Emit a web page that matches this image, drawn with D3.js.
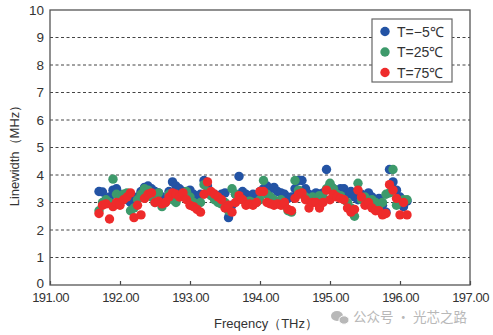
<!DOCTYPE html>
<html>
<head>
<meta charset="utf-8">
<script src="https://cdn.jsdelivr.net/npm/d3@7"></script>
<style>
  html, body { margin: 0; padding: 0; background: #fff; }
  svg { display: block; font-family: "Liberation Sans", Arial, sans-serif; }
</style>
</head>
<body>
<svg id="chart" width="493" height="335"></svg>
<script>
// Channel frequencies (THz), 50 GHz grid
const freqs = [
  191.70,191.75,191.80,191.85,191.90,191.95,192.00,192.05,192.10,192.15,
  192.20,192.25,192.30,192.35,192.40,192.45,192.50,192.55,192.60,192.65,
  192.70,192.75,192.80,192.85,192.90,192.95,193.00,193.05,193.10,193.15,
  193.20,193.25,193.30,193.35,193.40,193.45,193.50,193.55,193.60,193.65,
  193.70,193.75,193.80,193.85,193.90,193.95,194.00,194.05,194.10,194.15,
  194.20,194.25,194.30,194.35,194.40,194.45,194.50,194.55,194.60,194.65,
  194.70,194.75,194.80,194.85,194.90,194.95,195.00,195.05,195.10,195.15,
  195.20,195.25,195.30,195.35,195.40,195.45,195.50,195.55,195.60,195.65,
  195.70,195.75,195.80,195.85,195.90,195.95,196.00,196.05,196.10
];

// Linewidth (MHz) at T = -5 °C
const lwMinus5 = [
  3.40,3.38,3.10,3.20,3.45,3.50,3.30,3.20,3.10,3.00,
  3.10,3.20,3.40,3.55,3.60,3.50,3.40,3.35,3.20,3.10,
  3.40,3.75,3.60,3.50,3.40,3.30,3.45,3.30,3.20,3.30,
  3.80,3.60,3.35,3.30,3.20,3.30,3.35,2.45,2.90,3.30,
  3.95,3.40,3.30,3.25,3.30,3.20,3.40,3.50,3.60,3.50,
  3.55,3.40,3.35,3.30,3.15,3.20,3.50,3.80,3.80,3.50,
  3.30,3.25,3.35,3.30,3.35,4.20,3.65,3.50,3.40,3.50,
  3.50,3.30,3.40,3.20,3.10,3.30,3.25,3.35,3.20,3.10,
  3.15,2.90,2.65,4.20,3.75,3.45,3.20,2.85,3.05
];

// Linewidth (MHz) at T = 25 °C
const lw25 = [
  2.70,3.00,3.10,3.00,3.85,3.30,3.20,3.30,3.35,2.70,
  2.80,3.10,3.30,3.50,3.45,3.20,3.00,3.35,2.85,3.00,
  3.30,3.10,3.00,3.20,3.30,3.40,3.20,3.00,2.90,3.00,
  3.65,3.40,3.25,3.10,3.00,2.95,3.00,2.70,3.50,3.30,
  3.20,3.10,3.00,3.05,3.00,3.00,3.10,3.80,3.30,3.20,
  3.10,3.00,3.10,2.90,2.70,2.65,3.80,3.45,3.30,3.20,
  3.10,3.20,3.10,3.25,3.20,3.50,3.70,3.50,3.30,3.25,
  3.10,3.00,2.80,2.50,3.70,3.10,3.20,3.00,3.10,3.00,
  2.90,3.00,3.30,3.35,4.20,2.90,3.05,3.10,3.10
];

// Linewidth (MHz) at T = 75 °C
const lw75 = [
  2.60,2.90,2.95,2.40,2.85,3.00,2.90,3.10,3.20,3.35,
  2.45,2.90,2.55,3.15,3.30,3.35,3.00,3.05,2.95,3.00,
  3.20,3.35,3.30,3.20,3.35,3.10,2.90,2.85,2.75,2.65,
  3.30,3.75,3.40,3.30,3.20,3.10,2.80,2.90,2.65,3.00,
  3.25,3.10,2.90,2.95,2.90,3.00,3.40,3.40,3.00,2.95,
  2.90,2.95,2.90,3.00,2.75,2.70,3.15,3.30,3.35,3.10,
  2.80,3.00,3.00,2.80,3.00,3.45,3.10,3.30,3.20,3.15,
  3.10,2.80,2.65,2.75,3.45,3.20,2.90,3.00,2.80,2.70,
  2.70,2.55,2.60,3.65,3.45,3.15,2.55,3.00,2.55
];

const seriesNames = ["T=\u22125\u2103", "T=25\u2103", "T=75\u2103"];
const seriesColors = ["#2353a4", "#3d9a6b", "#ee2b2b"];
const seriesValues = [lwMinus5, lw25, lw75];

const xTicks = [191, 192, 193, 194, 195, 196, 197];
const yTicks = [0, 1, 2, 3, 4, 5, 6, 7, 8, 9, 10];

const svg = d3.select("#chart");
const L = 50, R = 470, T = 10, B = 285;

const x = d3.scaleLinear().domain([191, 197]).range([L, R]);
const y = d3.scaleLinear().domain([0, 10]).range([B, T]);

// dashed horizontal grid
svg.append("g")
  .selectAll("line")
  .data(yTicks.filter(v => v > 0 && v < 10))
  .join("line")
  .attr("x1", L).attr("x2", R)
  .attr("y1", d => y(d)).attr("y2", d => y(d))
  .attr("stroke", "#444")
  .attr("stroke-width", 1)
  .attr("stroke-dasharray", "3,2.5");

// scatter points, coldest first so hotter runs sit on top
seriesValues.forEach((vals, s) => {
  svg.append("g")
    .selectAll("circle")
    .data(freqs.map((f, i) => [f, vals[i]]))
    .join("circle")
    .attr("cx", d => x(d[0]))
    .attr("cy", d => y(d[1]))
    .attr("r", 4.7)
    .attr("fill", seriesColors[s]);
});

// x axis with inward ticks
const xAxis = svg.append("g")
  .attr("transform", `translate(0,${B})`)
  .call(d3.axisBottom(x).tickValues(xTicks).tickFormat(d3.format(".2f"))
    .tickSizeInner(-4).tickSizeOuter(0).tickPadding(8));
xAxis.select(".domain").remove();
xAxis.selectAll("line").attr("stroke", "#444").attr("stroke-width", 1.2);
xAxis.selectAll("text")
  .attr("fill", "#333").attr("font-size", 13).attr("letter-spacing", -0.5)
  .attr("font-family", "'Liberation Sans', Arial, sans-serif");

// y axis labels
const yAxis = svg.append("g")
  .attr("transform", `translate(${L},0)`)
  .call(d3.axisLeft(y).tickValues(yTicks).tickFormat(d3.format("d"))
    .tickSize(0).tickPadding(6));
yAxis.select(".domain").remove();
yAxis.selectAll("text")
  .attr("fill", "#333").attr("font-size", 13.5)
  .attr("font-family", "'Liberation Sans', Arial, sans-serif");
// lift the bottom label slightly clear of the first x label
yAxis.selectAll("text").filter(d => d === 0).attr("dy", "0.2em");

// plot frame
svg.append("rect")
  .attr("x", L).attr("y", T)
  .attr("width", R - L).attr("height", B - T)
  .attr("fill", "none")
  .attr("stroke", "#555")
  .attr("stroke-width", 1.3);

// axis titles
svg.append("text")
  .attr("transform", `translate(19,${(T + B) / 2 + 5}) rotate(-90)`)
  .attr("text-anchor", "middle")
  .attr("fill", "#333").attr("font-size", 13)
  .text("Linewidth\uFF08MHz\uFF09");

svg.append("text")
  .attr("x", 266).attr("y", 328)
  .attr("text-anchor", "middle")
  .attr("fill", "#333").attr("font-size", 13)
  .text("Freqency\uFF08THz\uFF09");

// legend
const lg = svg.append("g").attr("transform", "translate(372,19)");
lg.append("rect")
  .attr("width", 80).attr("height", 63)
  .attr("fill", "#fff").attr("stroke", "#666").attr("stroke-width", 1.2);
seriesNames.forEach((name, i) => {
  const row = lg.append("g").attr("transform", `translate(0,${12.5 + i * 20.5})`);
  row.append("circle").attr("cx", 13).attr("cy", 0).attr("r", 4.7).attr("fill", seriesColors[i]);
  row.append("text")
    .attr("x", 25).attr("y", 5)
    .attr("fill", "#333").attr("font-size", 14)
    .text(name);
});

// account watermark
const wm = svg.append("g").attr("fill", "#b8b8b8");
wm.append("ellipse").attr("cx", 337).attr("cy", 316).attr("rx", 6).attr("ry", 5);
wm.append("ellipse").attr("cx", 344).attr("cy", 320).attr("rx", 5).attr("ry", 4.2).attr("stroke", "#fff").attr("stroke-width", 1);
wm.append("text")
  .attr("x", 353).attr("y", 322)
  .attr("font-size", 13.5)
  .attr("font-family", "'Noto Sans CJK SC', sans-serif")
  .text("\u516C\u4F17\u53F7 \u00B7 \u5149\u82AF\u4E4B\u8DEF");
</script>
</body>
</html>
